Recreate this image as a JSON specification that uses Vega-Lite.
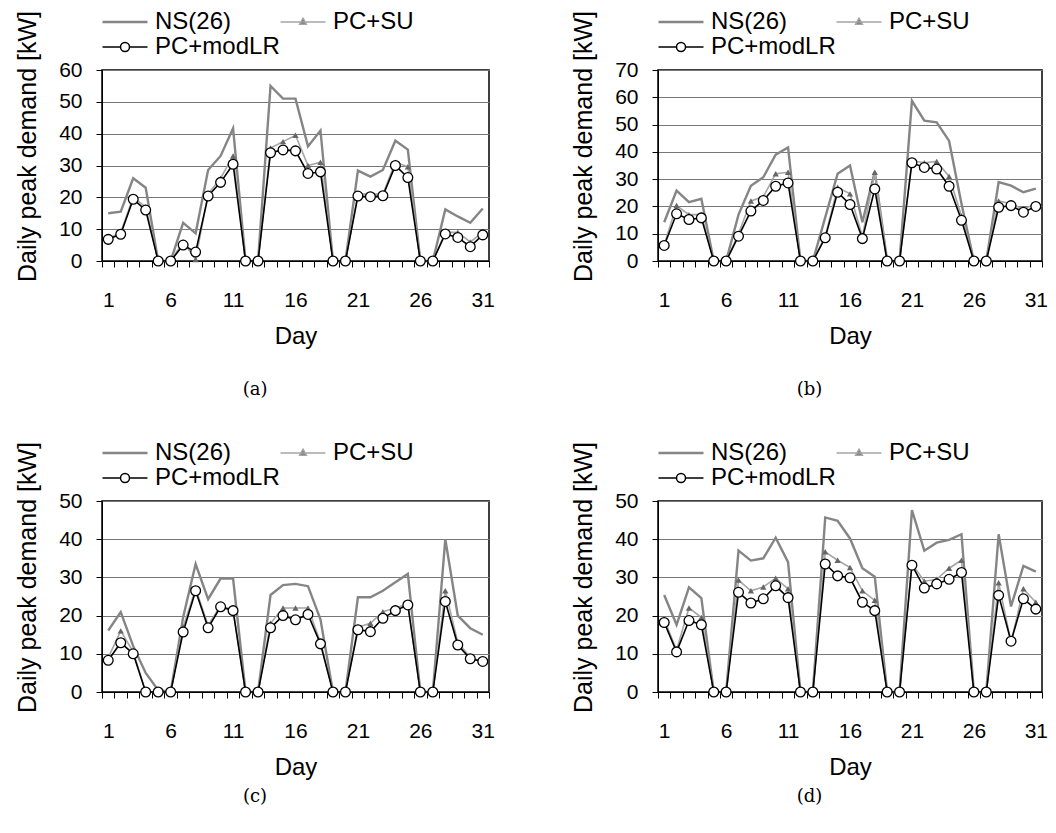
{
"$schema": "https://vega.github.io/schema/vega-lite/v6.json",
"background": "white",
"padding": {"left": 14, "top": 9, "right": 5, "bottom": 5},
"columns": 2,
"spacing": {"row": 40, "column": 74},
"resolve": {"scale": {"color": "independent", "x": "independent", "y": "independent"}, "legend": {"color": "independent"}},
"datasets": {
"a": [
{"day":1,"series":"NS(26)","kW":15},{"day":2,"series":"NS(26)","kW":15.5},{"day":3,"series":"NS(26)","kW":26},{"day":4,"series":"NS(26)","kW":23},{"day":5,"series":"NS(26)","kW":0},{"day":6,"series":"NS(26)","kW":0},{"day":7,"series":"NS(26)","kW":12},{"day":8,"series":"NS(26)","kW":8.7},{"day":9,"series":"NS(26)","kW":28.6},{"day":10,"series":"NS(26)","kW":33},{"day":11,"series":"NS(26)","kW":41.7},{"day":12,"series":"NS(26)","kW":0},{"day":13,"series":"NS(26)","kW":0},{"day":14,"series":"NS(26)","kW":55},{"day":15,"series":"NS(26)","kW":51},{"day":16,"series":"NS(26)","kW":51},{"day":17,"series":"NS(26)","kW":36},{"day":18,"series":"NS(26)","kW":41},{"day":19,"series":"NS(26)","kW":0},{"day":20,"series":"NS(26)","kW":0},{"day":21,"series":"NS(26)","kW":28.4},{"day":22,"series":"NS(26)","kW":26.5},{"day":23,"series":"NS(26)","kW":28.6},{"day":24,"series":"NS(26)","kW":37.8},{"day":25,"series":"NS(26)","kW":35},{"day":26,"series":"NS(26)","kW":0},{"day":27,"series":"NS(26)","kW":0},{"day":28,"series":"NS(26)","kW":16.2},{"day":29,"series":"NS(26)","kW":14},{"day":30,"series":"NS(26)","kW":12},{"day":31,"series":"NS(26)","kW":16.5},
{"day":1,"series":"PC+SU","kW":7},{"day":2,"series":"PC+SU","kW":9},{"day":3,"series":"PC+SU","kW":20},{"day":4,"series":"PC+SU","kW":17},{"day":5,"series":"PC+SU","kW":0},{"day":6,"series":"PC+SU","kW":0},{"day":7,"series":"PC+SU","kW":6},{"day":8,"series":"PC+SU","kW":0.5},{"day":9,"series":"PC+SU","kW":21},{"day":10,"series":"PC+SU","kW":26},{"day":11,"series":"PC+SU","kW":33},{"day":12,"series":"PC+SU","kW":0},{"day":13,"series":"PC+SU","kW":0},{"day":14,"series":"PC+SU","kW":35.5},{"day":15,"series":"PC+SU","kW":37.5},{"day":16,"series":"PC+SU","kW":39.5},{"day":17,"series":"PC+SU","kW":30},{"day":18,"series":"PC+SU","kW":31},{"day":19,"series":"PC+SU","kW":0},{"day":20,"series":"PC+SU","kW":0},{"day":21,"series":"PC+SU","kW":21},{"day":22,"series":"PC+SU","kW":21},{"day":23,"series":"PC+SU","kW":21},{"day":24,"series":"PC+SU","kW":31},{"day":25,"series":"PC+SU","kW":29.6},{"day":26,"series":"PC+SU","kW":0},{"day":27,"series":"PC+SU","kW":0},{"day":28,"series":"PC+SU","kW":9},{"day":29,"series":"PC+SU","kW":9},{"day":30,"series":"PC+SU","kW":6},{"day":31,"series":"PC+SU","kW":9},
{"day":1,"series":"PC+modLR","kW":6.8},{"day":2,"series":"PC+modLR","kW":8.4},{"day":3,"series":"PC+modLR","kW":19.4},{"day":4,"series":"PC+modLR","kW":16},{"day":5,"series":"PC+modLR","kW":0},{"day":6,"series":"PC+modLR","kW":0},{"day":7,"series":"PC+modLR","kW":5},{"day":8,"series":"PC+modLR","kW":2.8},{"day":9,"series":"PC+modLR","kW":20.4},{"day":10,"series":"PC+modLR","kW":24.7},{"day":11,"series":"PC+modLR","kW":30.4},{"day":12,"series":"PC+modLR","kW":0},{"day":13,"series":"PC+modLR","kW":0},{"day":14,"series":"PC+modLR","kW":34},{"day":15,"series":"PC+modLR","kW":34.9},{"day":16,"series":"PC+modLR","kW":34.6},{"day":17,"series":"PC+modLR","kW":27.5},{"day":18,"series":"PC+modLR","kW":28},{"day":19,"series":"PC+modLR","kW":0},{"day":20,"series":"PC+modLR","kW":0},{"day":21,"series":"PC+modLR","kW":20.4},{"day":22,"series":"PC+modLR","kW":20.2},{"day":23,"series":"PC+modLR","kW":20.5},{"day":24,"series":"PC+modLR","kW":30},{"day":25,"series":"PC+modLR","kW":26.2},{"day":26,"series":"PC+modLR","kW":0},{"day":27,"series":"PC+modLR","kW":0},{"day":28,"series":"PC+modLR","kW":8.5},{"day":29,"series":"PC+modLR","kW":7.4},{"day":30,"series":"PC+modLR","kW":4.5},{"day":31,"series":"PC+modLR","kW":8.2}
],
"b": [
{"day":1,"series":"NS(26)","kW":14.2},{"day":2,"series":"NS(26)","kW":25.8},{"day":3,"series":"NS(26)","kW":21.6},{"day":4,"series":"NS(26)","kW":22.8},{"day":5,"series":"NS(26)","kW":0},{"day":6,"series":"NS(26)","kW":0},{"day":7,"series":"NS(26)","kW":17},{"day":8,"series":"NS(26)","kW":27.6},{"day":9,"series":"NS(26)","kW":30.7},{"day":10,"series":"NS(26)","kW":39},{"day":11,"series":"NS(26)","kW":41.6},{"day":12,"series":"NS(26)","kW":0},{"day":13,"series":"NS(26)","kW":0},{"day":14,"series":"NS(26)","kW":16},{"day":15,"series":"NS(26)","kW":32},{"day":16,"series":"NS(26)","kW":35},{"day":17,"series":"NS(26)","kW":14.2},{"day":18,"series":"NS(26)","kW":32.8},{"day":19,"series":"NS(26)","kW":0},{"day":20,"series":"NS(26)","kW":0},{"day":21,"series":"NS(26)","kW":58.7},{"day":22,"series":"NS(26)","kW":51.4},{"day":23,"series":"NS(26)","kW":50.8},{"day":24,"series":"NS(26)","kW":44},{"day":25,"series":"NS(26)","kW":21},{"day":26,"series":"NS(26)","kW":0},{"day":27,"series":"NS(26)","kW":0},{"day":28,"series":"NS(26)","kW":28.9},{"day":29,"series":"NS(26)","kW":27.6},{"day":30,"series":"NS(26)","kW":25.2},{"day":31,"series":"NS(26)","kW":26.5},
{"day":1,"series":"PC+SU","kW":6},{"day":2,"series":"PC+SU","kW":20.3},{"day":3,"series":"PC+SU","kW":17},{"day":4,"series":"PC+SU","kW":17},{"day":5,"series":"PC+SU","kW":0},{"day":6,"series":"PC+SU","kW":0},{"day":7,"series":"PC+SU","kW":10},{"day":8,"series":"PC+SU","kW":22},{"day":9,"series":"PC+SU","kW":23.5},{"day":10,"series":"PC+SU","kW":32},{"day":11,"series":"PC+SU","kW":32.5},{"day":12,"series":"PC+SU","kW":0},{"day":13,"series":"PC+SU","kW":0},{"day":14,"series":"PC+SU","kW":9},{"day":15,"series":"PC+SU","kW":27},{"day":16,"series":"PC+SU","kW":24.6},{"day":17,"series":"PC+SU","kW":9},{"day":18,"series":"PC+SU","kW":32.5},{"day":19,"series":"PC+SU","kW":0},{"day":20,"series":"PC+SU","kW":0},{"day":21,"series":"PC+SU","kW":36.8},{"day":22,"series":"PC+SU","kW":36},{"day":23,"series":"PC+SU","kW":36.5},{"day":24,"series":"PC+SU","kW":31},{"day":25,"series":"PC+SU","kW":16.5},{"day":26,"series":"PC+SU","kW":0},{"day":27,"series":"PC+SU","kW":0},{"day":28,"series":"PC+SU","kW":22},{"day":29,"series":"PC+SU","kW":21},{"day":30,"series":"PC+SU","kW":19},{"day":31,"series":"PC+SU","kW":21},
{"day":1,"series":"PC+modLR","kW":5.7},{"day":2,"series":"PC+modLR","kW":17.3},{"day":3,"series":"PC+modLR","kW":15.2},{"day":4,"series":"PC+modLR","kW":15.8},{"day":5,"series":"PC+modLR","kW":0},{"day":6,"series":"PC+modLR","kW":0},{"day":7,"series":"PC+modLR","kW":9.1},{"day":8,"series":"PC+modLR","kW":18.3},{"day":9,"series":"PC+modLR","kW":22.2},{"day":10,"series":"PC+modLR","kW":27.4},{"day":11,"series":"PC+modLR","kW":28.6},{"day":12,"series":"PC+modLR","kW":0},{"day":13,"series":"PC+modLR","kW":0},{"day":14,"series":"PC+modLR","kW":8.5},{"day":15,"series":"PC+modLR","kW":25.2},{"day":16,"series":"PC+modLR","kW":20.7},{"day":17,"series":"PC+modLR","kW":8.2},{"day":18,"series":"PC+modLR","kW":26.4},{"day":19,"series":"PC+modLR","kW":0},{"day":20,"series":"PC+modLR","kW":0},{"day":21,"series":"PC+modLR","kW":36},{"day":22,"series":"PC+modLR","kW":34.3},{"day":23,"series":"PC+modLR","kW":33.7},{"day":24,"series":"PC+modLR","kW":27.4},{"day":25,"series":"PC+modLR","kW":14.9},{"day":26,"series":"PC+modLR","kW":0},{"day":27,"series":"PC+modLR","kW":0},{"day":28,"series":"PC+modLR","kW":19.7},{"day":29,"series":"PC+modLR","kW":20.3},{"day":30,"series":"PC+modLR","kW":17.9},{"day":31,"series":"PC+modLR","kW":20}
],
"c": [
{"day":1,"series":"NS(26)","kW":16.1},{"day":2,"series":"NS(26)","kW":20.9},{"day":3,"series":"NS(26)","kW":12},{"day":4,"series":"NS(26)","kW":5},{"day":5,"series":"NS(26)","kW":0.5},{"day":6,"series":"NS(26)","kW":0},{"day":7,"series":"NS(26)","kW":19.6},{"day":8,"series":"NS(26)","kW":33.5},{"day":9,"series":"NS(26)","kW":24.3},{"day":10,"series":"NS(26)","kW":29.7},{"day":11,"series":"NS(26)","kW":29.7},{"day":12,"series":"NS(26)","kW":0},{"day":13,"series":"NS(26)","kW":0},{"day":14,"series":"NS(26)","kW":25.4},{"day":15,"series":"NS(26)","kW":28},{"day":16,"series":"NS(26)","kW":28.3},{"day":17,"series":"NS(26)","kW":27.7},{"day":18,"series":"NS(26)","kW":19},{"day":19,"series":"NS(26)","kW":0},{"day":20,"series":"NS(26)","kW":0},{"day":21,"series":"NS(26)","kW":24.8},{"day":22,"series":"NS(26)","kW":24.8},{"day":23,"series":"NS(26)","kW":26.5},{"day":24,"series":"NS(26)","kW":28.7},{"day":25,"series":"NS(26)","kW":30.9},{"day":26,"series":"NS(26)","kW":0},{"day":27,"series":"NS(26)","kW":0},{"day":28,"series":"NS(26)","kW":40},{"day":29,"series":"NS(26)","kW":20},{"day":30,"series":"NS(26)","kW":16.7},{"day":31,"series":"NS(26)","kW":15},
{"day":1,"series":"PC+SU","kW":9},{"day":2,"series":"PC+SU","kW":16},{"day":3,"series":"PC+SU","kW":10.5},{"day":4,"series":"PC+SU","kW":0},{"day":5,"series":"PC+SU","kW":0},{"day":6,"series":"PC+SU","kW":0},{"day":7,"series":"PC+SU","kW":17},{"day":8,"series":"PC+SU","kW":27},{"day":9,"series":"PC+SU","kW":17.5},{"day":10,"series":"PC+SU","kW":22.5},{"day":11,"series":"PC+SU","kW":21.5},{"day":12,"series":"PC+SU","kW":0},{"day":13,"series":"PC+SU","kW":0},{"day":14,"series":"PC+SU","kW":18},{"day":15,"series":"PC+SU","kW":22},{"day":16,"series":"PC+SU","kW":22},{"day":17,"series":"PC+SU","kW":22},{"day":18,"series":"PC+SU","kW":13},{"day":19,"series":"PC+SU","kW":0},{"day":20,"series":"PC+SU","kW":0},{"day":21,"series":"PC+SU","kW":17},{"day":22,"series":"PC+SU","kW":18},{"day":23,"series":"PC+SU","kW":21},{"day":24,"series":"PC+SU","kW":22},{"day":25,"series":"PC+SU","kW":23},{"day":26,"series":"PC+SU","kW":0},{"day":27,"series":"PC+SU","kW":0},{"day":28,"series":"PC+SU","kW":26.5},{"day":29,"series":"PC+SU","kW":13},{"day":30,"series":"PC+SU","kW":9},{"day":31,"series":"PC+SU","kW":8},
{"day":1,"series":"PC+modLR","kW":8.3},{"day":2,"series":"PC+modLR","kW":12.9},{"day":3,"series":"PC+modLR","kW":10},{"day":4,"series":"PC+modLR","kW":0},{"day":5,"series":"PC+modLR","kW":0},{"day":6,"series":"PC+modLR","kW":0},{"day":7,"series":"PC+modLR","kW":15.7},{"day":8,"series":"PC+modLR","kW":26.5},{"day":9,"series":"PC+modLR","kW":16.8},{"day":10,"series":"PC+modLR","kW":22.3},{"day":11,"series":"PC+modLR","kW":21.3},{"day":12,"series":"PC+modLR","kW":0},{"day":13,"series":"PC+modLR","kW":0},{"day":14,"series":"PC+modLR","kW":16.8},{"day":15,"series":"PC+modLR","kW":20},{"day":16,"series":"PC+modLR","kW":18.9},{"day":17,"series":"PC+modLR","kW":20.3},{"day":18,"series":"PC+modLR","kW":12.6},{"day":19,"series":"PC+modLR","kW":0},{"day":20,"series":"PC+modLR","kW":0},{"day":21,"series":"PC+modLR","kW":16.3},{"day":22,"series":"PC+modLR","kW":15.8},{"day":23,"series":"PC+modLR","kW":19.3},{"day":24,"series":"PC+modLR","kW":21.3},{"day":25,"series":"PC+modLR","kW":22.8},{"day":26,"series":"PC+modLR","kW":0},{"day":27,"series":"PC+modLR","kW":0},{"day":28,"series":"PC+modLR","kW":23.7},{"day":29,"series":"PC+modLR","kW":12.3},{"day":30,"series":"PC+modLR","kW":8.7},{"day":31,"series":"PC+modLR","kW":8}
],
"d": [
{"day":1,"series":"NS(26)","kW":25.4},{"day":2,"series":"NS(26)","kW":17.6},{"day":3,"series":"NS(26)","kW":27.4},{"day":4,"series":"NS(26)","kW":24.6},{"day":5,"series":"NS(26)","kW":0},{"day":6,"series":"NS(26)","kW":0},{"day":7,"series":"NS(26)","kW":37},{"day":8,"series":"NS(26)","kW":34.4},{"day":9,"series":"NS(26)","kW":35},{"day":10,"series":"NS(26)","kW":40.4},{"day":11,"series":"NS(26)","kW":34},{"day":12,"series":"NS(26)","kW":0},{"day":13,"series":"NS(26)","kW":0},{"day":14,"series":"NS(26)","kW":45.7},{"day":15,"series":"NS(26)","kW":44.8},{"day":16,"series":"NS(26)","kW":40.2},{"day":17,"series":"NS(26)","kW":32.4},{"day":18,"series":"NS(26)","kW":30.2},{"day":19,"series":"NS(26)","kW":0},{"day":20,"series":"NS(26)","kW":0},{"day":21,"series":"NS(26)","kW":47.6},{"day":22,"series":"NS(26)","kW":37},{"day":23,"series":"NS(26)","kW":39.1},{"day":24,"series":"NS(26)","kW":39.8},{"day":25,"series":"NS(26)","kW":41.3},{"day":26,"series":"NS(26)","kW":0},{"day":27,"series":"NS(26)","kW":0},{"day":28,"series":"NS(26)","kW":41.3},{"day":29,"series":"NS(26)","kW":22.4},{"day":30,"series":"NS(26)","kW":33},{"day":31,"series":"NS(26)","kW":31.5},
{"day":1,"series":"PC+SU","kW":19},{"day":2,"series":"PC+SU","kW":11},{"day":3,"series":"PC+SU","kW":22},{"day":4,"series":"PC+SU","kW":19.5},{"day":5,"series":"PC+SU","kW":0},{"day":6,"series":"PC+SU","kW":0},{"day":7,"series":"PC+SU","kW":29.3},{"day":8,"series":"PC+SU","kW":26.5},{"day":9,"series":"PC+SU","kW":27.5},{"day":10,"series":"PC+SU","kW":29.8},{"day":11,"series":"PC+SU","kW":27},{"day":12,"series":"PC+SU","kW":0},{"day":13,"series":"PC+SU","kW":0},{"day":14,"series":"PC+SU","kW":36.7},{"day":15,"series":"PC+SU","kW":34.5},{"day":16,"series":"PC+SU","kW":32.6},{"day":17,"series":"PC+SU","kW":26.5},{"day":18,"series":"PC+SU","kW":24},{"day":19,"series":"PC+SU","kW":0},{"day":20,"series":"PC+SU","kW":0},{"day":21,"series":"PC+SU","kW":33.5},{"day":22,"series":"PC+SU","kW":29},{"day":23,"series":"PC+SU","kW":29.5},{"day":24,"series":"PC+SU","kW":32.4},{"day":25,"series":"PC+SU","kW":34.5},{"day":26,"series":"PC+SU","kW":0},{"day":27,"series":"PC+SU","kW":0},{"day":28,"series":"PC+SU","kW":28.6},{"day":29,"series":"PC+SU","kW":13},{"day":30,"series":"PC+SU","kW":27},{"day":31,"series":"PC+SU","kW":23.5},
{"day":1,"series":"PC+modLR","kW":18.2},{"day":2,"series":"PC+modLR","kW":10.5},{"day":3,"series":"PC+modLR","kW":18.7},{"day":4,"series":"PC+modLR","kW":17.6},{"day":5,"series":"PC+modLR","kW":0},{"day":6,"series":"PC+modLR","kW":0},{"day":7,"series":"PC+modLR","kW":26.1},{"day":8,"series":"PC+modLR","kW":23.3},{"day":9,"series":"PC+modLR","kW":24.4},{"day":10,"series":"PC+modLR","kW":27.8},{"day":11,"series":"PC+modLR","kW":24.7},{"day":12,"series":"PC+modLR","kW":0},{"day":13,"series":"PC+modLR","kW":0},{"day":14,"series":"PC+modLR","kW":33.5},{"day":15,"series":"PC+modLR","kW":30.4},{"day":16,"series":"PC+modLR","kW":29.9},{"day":17,"series":"PC+modLR","kW":23.5},{"day":18,"series":"PC+modLR","kW":21.3},{"day":19,"series":"PC+modLR","kW":0},{"day":20,"series":"PC+modLR","kW":0},{"day":21,"series":"PC+modLR","kW":33.2},{"day":22,"series":"PC+modLR","kW":27.2},{"day":23,"series":"PC+modLR","kW":28.3},{"day":24,"series":"PC+modLR","kW":29.5},{"day":25,"series":"PC+modLR","kW":31.3},{"day":26,"series":"PC+modLR","kW":0},{"day":27,"series":"PC+modLR","kW":0},{"day":28,"series":"PC+modLR","kW":25.3},{"day":29,"series":"PC+modLR","kW":13.3},{"day":30,"series":"PC+modLR","kW":24.4},{"day":31,"series":"PC+modLR","kW":21.7}
]
},
"concat": [
{
"data": {"name": "a"}, "width": 387, "height": 191, "title": {"text": "(a)", "offset": 33},
"encoding": {
 "x": {"field": "day", "type": "ordinal", "scale": {"type": "band", "paddingInner": 0, "paddingOuter": 0}, "axis": {"title": "Day", "labelExpr": "(datum.value - 1) % 5 == 0 ? datum.label : ''"}},
 "y": {"field": "kW", "type": "quantitative", "scale": {"domain": [0, 60], "nice": false}, "axis": {"values": [0, 10, 20, 30, 40, 50, 60], "title": "Daily peak demand [kW]", "titleY": 76}}
},
"layer": [
 {"transform": [{"filter": "datum.series == 'NS(26)'"}], "mark": {"type": "line", "strokeWidth": 2.4}, "encoding": {"color": {"field": "series", "type": "nominal", "scale": {"domain": ["NS(26)", "PC+SU", "PC+modLR"], "range": ["#858585", "#a5a5a5", "#000000"]}, "legend": {"title": null, "encode": {"symbols": {"update": {"shape": {"signal": "datum.value === 'NS(26)' ? 'M-1,0H1' : (datum.value === 'PC+SU' ? 'M-1,0H1M0,-0.17L0.15,0.1L-0.15,0.1Z' : 'M-1,0H-0.2M0.2,0H1M-0.2,0A0.2,0.2 0 1,0 0.2,0A0.2,0.2 0 1,0 -0.2,0Z')"}, "fill": {"signal": "datum.value === 'PC+SU' ? '#666666' : (datum.value === 'PC+modLR' ? '#ffffff' : 'transparent')"}, "stroke": {"signal": "datum.value === 'NS(26)' ? '#858585' : (datum.value === 'PC+SU' ? '#8a8a8a' : '#000000')"}, "strokeWidth": {"signal": "datum.value === 'NS(26)' ? 2.4 : 1.5"}, "opacity": {"value": 1}}}}}}}},
 {"transform": [{"filter": "datum.series == 'PC+SU'"}], "mark": {"type": "line", "strokeWidth": 1.6}, "encoding": {"color": {"field": "series", "type": "nominal"}}},
 {"transform": [{"filter": "datum.series == 'PC+modLR'"}], "mark": {"type": "line", "strokeWidth": 1.6}, "encoding": {"color": {"field": "series", "type": "nominal"}}},
 {"transform": [{"filter": "datum.series == 'PC+SU'"}], "mark": {"type": "point", "shape": "triangle-up", "filled": true, "color": "#666666", "size": 40, "opacity": 1}},
 {"transform": [{"filter": "datum.series == 'PC+modLR'"}], "mark": {"type": "point", "shape": "circle", "filled": true, "fill": "#ffffff", "stroke": "#000000", "strokeWidth": 1.3, "size": 95, "opacity": 1}}
]
},
{
"data": {"name": "b"}, "width": 384, "height": 191, "title": {"text": "(b)", "offset": 33},
"encoding": {
 "x": {"field": "day", "type": "ordinal", "scale": {"type": "band", "paddingInner": 0, "paddingOuter": 0}, "axis": {"title": "Day", "labelExpr": "(datum.value - 1) % 5 == 0 ? datum.label : ''"}},
 "y": {"field": "kW", "type": "quantitative", "scale": {"domain": [0, 70], "nice": false}, "axis": {"values": [0, 10, 20, 30, 40, 50, 60, 70], "title": "Daily peak demand [kW]", "titleY": 76}}
},
"layer": [
 {"transform": [{"filter": "datum.series == 'NS(26)'"}], "mark": {"type": "line", "strokeWidth": 2.4}, "encoding": {"color": {"field": "series", "type": "nominal", "scale": {"domain": ["NS(26)", "PC+SU", "PC+modLR"], "range": ["#858585", "#a5a5a5", "#000000"]}, "legend": {"title": null, "encode": {"symbols": {"update": {"shape": {"signal": "datum.value === 'NS(26)' ? 'M-1,0H1' : (datum.value === 'PC+SU' ? 'M-1,0H1M0,-0.17L0.15,0.1L-0.15,0.1Z' : 'M-1,0H-0.2M0.2,0H1M-0.2,0A0.2,0.2 0 1,0 0.2,0A0.2,0.2 0 1,0 -0.2,0Z')"}, "fill": {"signal": "datum.value === 'PC+SU' ? '#666666' : (datum.value === 'PC+modLR' ? '#ffffff' : 'transparent')"}, "stroke": {"signal": "datum.value === 'NS(26)' ? '#858585' : (datum.value === 'PC+SU' ? '#8a8a8a' : '#000000')"}, "strokeWidth": {"signal": "datum.value === 'NS(26)' ? 2.4 : 1.5"}, "opacity": {"value": 1}}}}}}}},
 {"transform": [{"filter": "datum.series == 'PC+SU'"}], "mark": {"type": "line", "strokeWidth": 1.6}, "encoding": {"color": {"field": "series", "type": "nominal"}}},
 {"transform": [{"filter": "datum.series == 'PC+modLR'"}], "mark": {"type": "line", "strokeWidth": 1.6}, "encoding": {"color": {"field": "series", "type": "nominal"}}},
 {"transform": [{"filter": "datum.series == 'PC+SU'"}], "mark": {"type": "point", "shape": "triangle-up", "filled": true, "color": "#666666", "size": 40, "opacity": 1}},
 {"transform": [{"filter": "datum.series == 'PC+modLR'"}], "mark": {"type": "point", "shape": "circle", "filled": true, "fill": "#ffffff", "stroke": "#000000", "strokeWidth": 1.3, "size": 95, "opacity": 1}}
]
},
{
"data": {"name": "c"}, "width": 387, "height": 191, "title": {"text": "(c)", "offset": 9},
"encoding": {
 "x": {"field": "day", "type": "ordinal", "scale": {"type": "band", "paddingInner": 0, "paddingOuter": 0}, "axis": {"title": "Day", "labelExpr": "(datum.value - 1) % 5 == 0 ? datum.label : ''"}},
 "y": {"field": "kW", "type": "quantitative", "scale": {"domain": [0, 50], "nice": false}, "axis": {"values": [0, 10, 20, 30, 40, 50], "title": "Daily peak demand [kW]", "titleY": 76}}
},
"layer": [
 {"transform": [{"filter": "datum.series == 'NS(26)'"}], "mark": {"type": "line", "strokeWidth": 2.4}, "encoding": {"color": {"field": "series", "type": "nominal", "scale": {"domain": ["NS(26)", "PC+SU", "PC+modLR"], "range": ["#858585", "#a5a5a5", "#000000"]}, "legend": {"title": null, "encode": {"symbols": {"update": {"shape": {"signal": "datum.value === 'NS(26)' ? 'M-1,0H1' : (datum.value === 'PC+SU' ? 'M-1,0H1M0,-0.17L0.15,0.1L-0.15,0.1Z' : 'M-1,0H-0.2M0.2,0H1M-0.2,0A0.2,0.2 0 1,0 0.2,0A0.2,0.2 0 1,0 -0.2,0Z')"}, "fill": {"signal": "datum.value === 'PC+SU' ? '#666666' : (datum.value === 'PC+modLR' ? '#ffffff' : 'transparent')"}, "stroke": {"signal": "datum.value === 'NS(26)' ? '#858585' : (datum.value === 'PC+SU' ? '#8a8a8a' : '#000000')"}, "strokeWidth": {"signal": "datum.value === 'NS(26)' ? 2.4 : 1.5"}, "opacity": {"value": 1}}}}}}}},
 {"transform": [{"filter": "datum.series == 'PC+SU'"}], "mark": {"type": "line", "strokeWidth": 1.6}, "encoding": {"color": {"field": "series", "type": "nominal"}}},
 {"transform": [{"filter": "datum.series == 'PC+modLR'"}], "mark": {"type": "line", "strokeWidth": 1.6}, "encoding": {"color": {"field": "series", "type": "nominal"}}},
 {"transform": [{"filter": "datum.series == 'PC+SU'"}], "mark": {"type": "point", "shape": "triangle-up", "filled": true, "color": "#666666", "size": 40, "opacity": 1}},
 {"transform": [{"filter": "datum.series == 'PC+modLR'"}], "mark": {"type": "point", "shape": "circle", "filled": true, "fill": "#ffffff", "stroke": "#000000", "strokeWidth": 1.3, "size": 95, "opacity": 1}}
]
},
{
"data": {"name": "d"}, "width": 384, "height": 191, "title": {"text": "(d)", "offset": 9},
"encoding": {
 "x": {"field": "day", "type": "ordinal", "scale": {"type": "band", "paddingInner": 0, "paddingOuter": 0}, "axis": {"title": "Day", "labelExpr": "(datum.value - 1) % 5 == 0 ? datum.label : ''"}},
 "y": {"field": "kW", "type": "quantitative", "scale": {"domain": [0, 50], "nice": false}, "axis": {"values": [0, 10, 20, 30, 40, 50], "title": "Daily peak demand [kW]", "titleY": 76}}
},
"layer": [
 {"transform": [{"filter": "datum.series == 'NS(26)'"}], "mark": {"type": "line", "strokeWidth": 2.4}, "encoding": {"color": {"field": "series", "type": "nominal", "scale": {"domain": ["NS(26)", "PC+SU", "PC+modLR"], "range": ["#858585", "#a5a5a5", "#000000"]}, "legend": {"title": null, "encode": {"symbols": {"update": {"shape": {"signal": "datum.value === 'NS(26)' ? 'M-1,0H1' : (datum.value === 'PC+SU' ? 'M-1,0H1M0,-0.17L0.15,0.1L-0.15,0.1Z' : 'M-1,0H-0.2M0.2,0H1M-0.2,0A0.2,0.2 0 1,0 0.2,0A0.2,0.2 0 1,0 -0.2,0Z')"}, "fill": {"signal": "datum.value === 'PC+SU' ? '#666666' : (datum.value === 'PC+modLR' ? '#ffffff' : 'transparent')"}, "stroke": {"signal": "datum.value === 'NS(26)' ? '#858585' : (datum.value === 'PC+SU' ? '#8a8a8a' : '#000000')"}, "strokeWidth": {"signal": "datum.value === 'NS(26)' ? 2.4 : 1.5"}, "opacity": {"value": 1}}}}}}}},
 {"transform": [{"filter": "datum.series == 'PC+SU'"}], "mark": {"type": "line", "strokeWidth": 1.6}, "encoding": {"color": {"field": "series", "type": "nominal"}}},
 {"transform": [{"filter": "datum.series == 'PC+modLR'"}], "mark": {"type": "line", "strokeWidth": 1.6}, "encoding": {"color": {"field": "series", "type": "nominal"}}},
 {"transform": [{"filter": "datum.series == 'PC+SU'"}], "mark": {"type": "point", "shape": "triangle-up", "filled": true, "color": "#666666", "size": 40, "opacity": 1}},
 {"transform": [{"filter": "datum.series == 'PC+modLR'"}], "mark": {"type": "point", "shape": "circle", "filled": true, "fill": "#ffffff", "stroke": "#000000", "strokeWidth": 1.3, "size": 95, "opacity": 1}}
]
}
],
"config": {
 "font": "Liberation Sans",
 "view": {"stroke": "#000000", "strokeWidth": 1.5},
 "axis": {"labelFont": "Liberation Sans", "titleFont": "Liberation Sans", "labelColor": "#000000", "titleColor": "#000000", "titleFontWeight": "normal", "domainColor": "#000000", "tickColor": "#000000", "labelFontSize": 21, "titleFontSize": 24, "labelOverlap": false},
 "axisY": {"grid": true, "gridColor": "#777777", "gridWidth": 1, "tickSize": 6, "labelPadding": 14, "titlePadding": 18, "titleFontSize": 25},
 "axisX": {"grid": false, "tickSize": 6, "labelPadding": 22, "titlePadding": 14, "labelAngle": 0, "tickBand": "extent"},
 "legend": {"orient": "top", "direction": "horizontal", "columns": 2, "labelFont": "Liberation Sans", "labelFontSize": 24, "labelColor": "#000000", "symbolSize": 2025, "symbolOffset": 11, "labelOffset": 18, "columnPadding": -8, "rowPadding": 1, "offset": 11, "padding": 0, "labelLimit": 300},
 "title": {"orient": "bottom", "anchor": "middle", "frame": "bounds", "font": "DejaVu Serif", "fontSize": 18, "fontWeight": "normal", "color": "#000000"}
}
}
